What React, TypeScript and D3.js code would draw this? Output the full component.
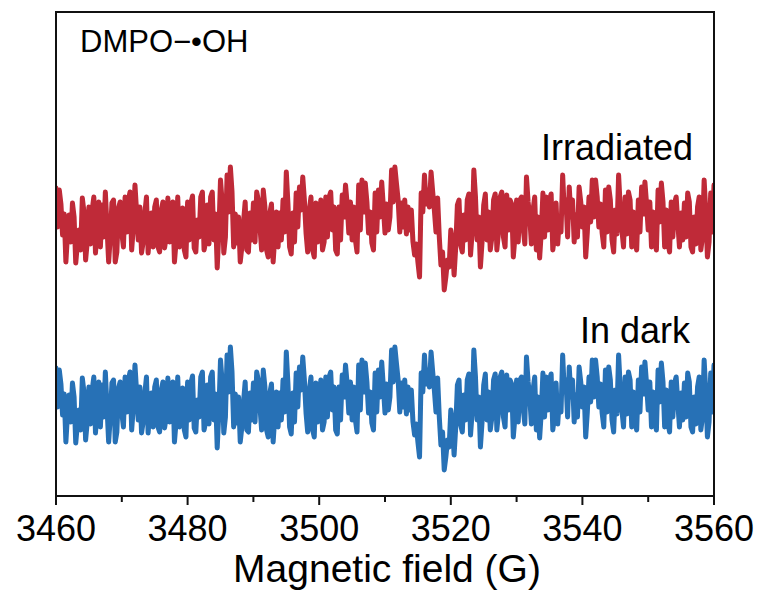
import React from "react";
import * as d3 from "d3";

const fieldStart = 3460;
const fieldStep = 0.25;
const xTicks = [3460, 3480, 3500, 3520, 3540, 3560];
const xMinorTicks = [3470, 3490, 3510, 3530, 3550];

const irradiated = [
  34, -5, 32, 18, -13, 8, -40, -12, 7, -20, 19, 5, -41, -22, -8, -28, 24, 10, -38, -20,
  15, -22, 12, 25, -31, -8, 20, -25, 17, -15, 30, -5, -40, -15, 19, 22, -40, -30, 14, 20,
  -11, -25, 25, -10, 22, 30, -28, -5, 37, 10, -18, 15, -31, -20, 9, 25, -31, -10, 9, -25,
  15, 22, -25, -30, 12, 20, -26, -15, 24, -20, 12, 20, -40, -20, 25, -25, -3, 14, -28, -35,
  20, -18, 19, 26, -26, -30, 2, -15, 25, 30, -28, -20, 17, -22, 25, 30, -18, 8, -46, -10,
  42, 20, -31, -15, 47, 10, 55, 30, -25, 8, -21, 5, -40, -25, 0, 20, -28, -30, 9, -18,
  19, -20, 30, 22, -5, -28, 32, 15, -28, -35, 9, 18, -40, -15, 10, -25, 9, -18, 22, -10,
  50, 18, -25, -32, 9, -20, 29, -5, 35, 12, 45, 22, -11, -30, 12, 25, -28, -35, 19, -20,
  5, 22, -28, -20, 25, -15, 25, 30, -8, 15, -28, -32, 15, -18, 27, 5, 37, 18, -11, 20,
  -18, 15, -18, -30, 37, -8, 42, 10, 39, 20, -11, 10, -21, -28, 29, -10, 32, 5, 40, 15,
  -11, 18,
  -8, 5, 52, 20, 55, 38, 22, -10, 19, -5, 22, -12, 15, -8, 12, -20, -33, -22, -40, -55,
  29, 10, 47, 18, 32, 15, 50, 30, 12, -10, 24, -15, -43, -30, -68, -55, -38, -45, -8, -20,
  -53, -25, 17, 22, -23, -30, 7, -18, 22, 28, -33, -10, 52, 25, -18, 5, -45, -20, 17, 28,
  -18, 10, -28, -15, 22, 28, -28, -10, 25, 30, -15, -25, 27, -8, 22, 18, -35, -15, 22, -20,
  22, 25, -6, -22, 45, 20, 5, -22, 12, 25, -28, 5, -36, -10, 29, -15, 25, -8, 22, 28,
  -28, -15, 19, -22, 5, -10, 47, 10, 22, -15, 35, 5, 22, -20, 7, -15, 35, 20, -5, 15,
  -35, -10, 25, 0, 42, 5, 42, 25, -5, 18, -11, -25, 32, -10, 35, 22, -18, -30, 12, -12,
  47, 15, -8, -25, 25, -12, 30, 22, -25, 10, -18, -28, 22, -10, 35, 8, 40, 18, -8, 20,
  -25, 10, -18, -28, 32, 0, 39, 20, -25, 12, -21, -30, 20, -15, 19, 25, -1, -25, 9, -18,
  19, -15, 29, 20, -25, -30, 5, -22, 15, 25, -28, -15, 42, 10, -35, -20, 29, -10, 37,
];

const inDark = [
  34, -5, 32, 18, -13, 8, -40, -12, 7, -20, 19, 5, -41, -22, -8, -28, 24, 10, -38, -20,
  15, -22, 12, 25, -31, -8, 20, -25, 17, -15, 30, -5, -40, -15, 19, 22, -40, -30, 14, 20,
  -11, -25, 25, -10, 22, 30, -28, -5, 37, 10, -18, 15, -31, -20, 9, 25, -31, -10, 9, -25,
  15, 22, -25, -30, 12, 20, -26, -15, 24, -20, 12, 20, -40, -20, 25, -25, -3, 14, -28, -35,
  20, -18, 19, 26, -26, -30, 2, -15, 25, 30, -28, -20, 17, -22, 25, 30, -18, 8, -46, -10,
  42, 20, -31, -15, 47, 10, 55, 30, -25, 8, -21, 5, -40, -25, 0, 20, -28, -30, 9, -18,
  19, -20, 30, 22, -5, -28, 32, 15, -28, -35, 9, 18, -40, -15, 10, -25, 9, -18, 22, -10,
  50, 18, -25, -32, 9, -20, 29, -5, 35, 12, 45, 22, -11, -30, 12, 25, -28, -35, 19, -20,
  5, 22, -28, -20, 25, -15, 25, 30, -8, 15, -28, -32, 15, -18, 27, 5, 37, 18, -11, 20,
  -18, 15, -18, -30, 37, -8, 42, 10, 39, 20, -11, 10, -21, -28, 29, -10, 32, 5, 40, 15,
  -11, 18,
  -8, 5, 52, 20, 55, 38, 22, -10, 19, -5, 22, -12, 15, -8, 12, -20, -33, -22, -40, -55,
  29, 10, 47, 18, 32, 15, 50, 30, 12, -10, 24, -15, -43, -30, -68, -55, -38, -45, -8, -20,
  -53, -25, 17, 22, -23, -30, 7, -18, 22, 28, -33, -10, 52, 25, -18, 5, -45, -20, 17, 28,
  -18, 10, -28, -15, 22, 28, -28, -10, 25, 30, -15, -25, 27, -8, 22, 18, -35, -15, 22, -20,
  22, 25, -6, -22, 45, 20, 5, -22, 12, 25, -28, 5, -36, -10, 29, -15, 25, -8, 22, 28,
  -28, -15, 19, -22, 5, -10, 47, 10, 22, -15, 35, 5, 22, -20, 7, -15, 35, 20, -5, 15,
  -35, -10, 25, 0, 42, 5, 42, 25, -5, 18, -11, -25, 32, -10, 35, 22, -18, -30, 12, -12,
  47, 15, -8, -25, 25, -12, 30, 22, -25, 10, -18, -28, 22, -10, 35, 8, 40, 18, -8, 20,
  -25, 10, -18, -28, 32, 0, 39, 20, -25, 12, -21, -30, 20, -15, 19, 25, -1, -25, 9, -18,
  19, -15, 29, 20, -25, -30, 5, -22, 15, 25, -28, -15, 42, 10, -35, -20, 29, -10, 37,
];

const seriesLabels = ["Irradiated", "In dark"];
const seriesOffsets = [274, 94];
const title = "DMPO\u2212\u2022OH";
const xLabel = "Magnetic field (G)";

const W = 764;
const H = 594;
const left = 56;
const right = 714;
const top = 12;
const bottom = 496;
const FONT = "'Liberation Sans', Arial, sans-serif";

export default function App() {
  const x = d3.scaleLinear().domain([3460, 3560]).range([left, right]);
  const y = d3.scaleLinear().domain([0, bottom - top]).range([bottom, top]);

  const makeLine = (vals: number[], off: number) =>
    d3
      .line<number>()
      .x((_, i) => x(fieldStart + i * fieldStep))
      .y((v) => y(v + off))
      .curve(d3.curveLinear)(vals) as string;

  const colors = ["#BF2A38", "#2771B6"];
  const data = [irradiated, inDark];

  return (
    <svg
      width={W}
      height={H}
      style={{ position: "absolute", left: 0, top: 0, background: "#fff" }}
    >
      <rect x={0} y={0} width={W} height={H} fill="#fff" />
      <defs>
        <clipPath id="plotClip">
          <rect x={left} y={top} width={right - left} height={bottom - top} />
        </clipPath>
      </defs>
      <g clipPath="url(#plotClip)">
        {data.map((vals, k) => (
          <path
            key={k}
            d={makeLine(vals, seriesOffsets[k])}
            fill="none"
            stroke={colors[k]}
            strokeWidth={5}
            strokeLinejoin="round"
            strokeLinecap="round"
          />
        ))}
      </g>
      <rect
        x={left}
        y={top}
        width={right - left}
        height={bottom - top}
        fill="none"
        stroke="#111"
        strokeWidth={2}
      />
      {xTicks.map((t) => (
        <g key={t}>
          <line x1={x(t)} x2={x(t)} y1={bottom} y2={bottom + 9} stroke="#111" strokeWidth={2} />
          <text
            x={x(t)}
            y={541}
            textAnchor="middle"
            fontFamily={FONT}
            fontSize={36}
            fill="#000"
          >
            {t}
          </text>
        </g>
      ))}
      {xMinorTicks.map((t) => (
        <line key={t} x1={x(t)} x2={x(t)} y1={bottom} y2={bottom + 6} stroke="#111" strokeWidth={2} />
      ))}
      <text x={(left + right) / 2 + 2} y={582} textAnchor="middle" fontFamily={FONT} fontSize={39} fill="#000">
        {xLabel}
      </text>
      <text x={80} y={52} fontFamily={FONT} fontSize={31} fill="#000">
        {title}
      </text>
      <text x={693} y={160} textAnchor="end" fontFamily={FONT} fontSize={36} fill="#000">
        {seriesLabels[0]}
      </text>
      <text x={690} y={343} textAnchor="end" fontFamily={FONT} fontSize={36} fill="#000">
        {seriesLabels[1]}
      </text>
    </svg>
  );
}
